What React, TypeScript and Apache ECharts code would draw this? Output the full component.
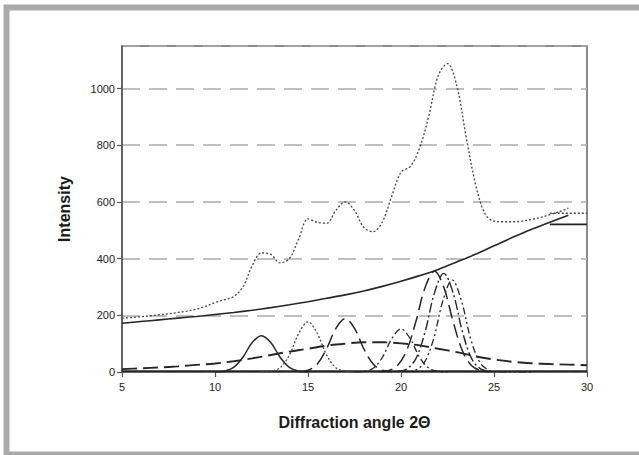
import React, { useEffect, useRef } from "react";
import * as echarts from "echarts";

// ---------- data ----------
const xTicks = [5, 10, 15, 20, 25, 30];
const yTicks = [0, 200, 400, 600, 800, 1000];

// observed total (dotted)
const totalX = [5, 5.5, 6, 6.5, 7, 7.5, 8, 8.5, 9, 9.5, 10, 10.5, 11, 11.5, 12, 12.5, 13, 13.5, 14, 14.5, 15, 15.5, 16, 16.5, 17, 17.5, 18, 18.5, 19, 19.5, 20, 20.5, 21, 21.5, 22, 22.5, 23, 23.5, 24, 24.5, 25, 25.5, 26, 26.5, 27, 27.5, 28, 28.5, 29];
const totalY = [190, 192, 195, 198, 202, 205, 210, 215, 222, 232, 245, 255, 266, 300, 375, 420, 415, 385, 400, 470, 540, 528, 525, 570, 600, 570, 510, 495, 530, 620, 705, 725, 790, 905, 1045, 1088, 1010, 830, 665, 560, 532, 530, 530, 532, 538, 545, 555, 565, 578];
const totalTailX = [28, 30];
const totalTailY = [560, 560];

// background (solid)
const bgX = [5, 6, 7, 8, 9, 10, 11, 12, 13, 14, 15, 16, 17, 18, 19, 20, 21, 22, 23, 24, 25, 26, 27, 28, 29];
const bgY = [172, 178, 184, 190, 196, 203, 210, 218, 227, 237, 248, 260, 272, 286, 302, 320, 340, 362, 388, 415, 445, 475, 503, 528, 553];
const bgTailX = [28, 30];
const bgTailY = [521, 521];

// amorphous hump (long dash)
const humpX = [5, 6, 7, 8, 9, 10, 11, 12, 13, 14, 15, 16, 17, 18, 19, 20, 21, 22, 23, 24, 25, 26, 27, 28, 29, 30];
const humpY = [10, 13, 16, 20, 25, 30, 38, 48, 60, 72, 82, 93, 100, 105, 105, 101, 94, 82, 70, 55, 44, 36, 31, 28, 26, 24];

// crystalline peaks
const peakAX = [10, 10.5, 11, 11.5, 12, 12.5, 13, 13.5, 14, 14.5, 15];
const peakAY = [0, 3, 16, 52, 104, 128, 104, 52, 16, 3, 0];

const peakBX = [12.5, 13, 13.5, 14, 14.5, 15, 15.5, 16, 16.5, 17, 17.5];
const peakBY = [1, 3, 15, 60, 136, 177, 136, 60, 15, 3, 0.5];

const peakCX = [14.5, 15, 15.5, 16, 16.5, 17, 17.5, 18, 18.5, 19, 19.5];
const peakCY = [1, 6, 28, 82, 154, 188, 154, 82, 28, 6, 1];

const peakDX = [17.5, 18, 18.5, 19, 19.5, 20, 20.5, 21, 21.5, 22, 22.5];
const peakDY = [0.5, 2, 13, 52, 117, 152, 117, 52, 13, 2, 0];

const peakEX = [18.8, 19.3, 19.8, 20.3, 20.8, 21.3, 21.8, 22.3, 22.8, 23.3, 23.8, 24.3, 24.8];
const peakEY = [0.7, 4.7, 22, 75, 178, 299, 355, 299, 178, 75, 22, 4.7, 0.7];

const peakFX = [19.8, 20.3, 20.8, 21.3, 21.8, 22.3, 22.8, 23.3, 23.8, 24.3, 24.8];
const peakFY = [1.4, 10, 47, 143, 279, 348, 279, 143, 47, 10, 1.4];

const peakGX = [20.25, 20.75, 21.25, 21.75, 22.25, 22.75, 23.25, 23.75, 24.25, 24.75, 25.25, 26, 27];
const peakGY = [0.6, 5.5, 33, 116, 251, 325, 251, 116, 33, 5.5, 0.6, 0, 0];

const baseX = [5, 30];
const baseY = [3, 3];

const pairs = (xs: number[], ys: number[]) => ys.map((y, i) => [xs[i], y]);

export default function App() {
  const ref = useRef<HTMLDivElement>(null);
  useEffect(() => {
    if (!ref.current) return;
    const chart = echarts.init(ref.current, undefined, { renderer: "svg" });
    const ink = "#262626";
    const line = (
      name: string,
      xs: number[],
      ys: number[],
      type: any,
      width = 1.5,
      smooth: any = 0.35,
      color = ink
    ) => ({
      name,
      type: "line",
      data: pairs(xs, ys),
      showSymbol: false,
      smooth,
      lineStyle: { color, width, type },
      silent: true,
    });
    chart.setOption({
      animation: false,
      backgroundColor: "#ffffff",
      textStyle: { fontFamily: "Liberation Sans, Arial, sans-serif" },
      graphic: [
        {
          type: "rect",
          shape: { x: 6.5, y: 7.5, width: 700, height: 447 },
          style: { fill: "none", stroke: "#a9a9a9", lineWidth: 6 },
          silent: true,
        },
      ],
      grid: {
        left: 122,
        right: 52,
        top: 46,
        bottom: 83,
        show: true,
        borderColor: "#666",
        borderWidth: 1.5,
        backgroundColor: "transparent",
      },
      xAxis: {
        type: "value",
        min: xTicks[0],
        max: xTicks[xTicks.length - 1],
        interval: 5,
        name: "Diffraction angle 2Θ",
        nameLocation: "middle",
        nameGap: 42,
        nameTextStyle: { fontSize: 16, fontWeight: "bold", color: "#1a1a1a" },
        axisLine: { show: true, lineStyle: { color: "#555", width: 1.5 } },
        axisTick: { show: true, length: 5, lineStyle: { color: "#555", width: 1.2 } },
        axisLabel: { fontSize: 11, color: "#222", margin: 9 },
        splitLine: { show: false },
      },
      yAxis: {
        type: "value",
        min: yTicks[0],
        max: 1150,
        interval: 200,
        name: "Intensity",
        nameLocation: "middle",
        nameGap: 50,
        nameTextStyle: { fontSize: 16, fontWeight: "bold", color: "#1a1a1a" },
        axisLine: { show: true, lineStyle: { color: "#555", width: 1.5 } },
        axisTick: { show: true, length: 5, lineStyle: { color: "#555", width: 1.2 } },
        axisLabel: {
          fontSize: 11,
          color: "#222",
          margin: 7,
          showMaxLabel: false,
          formatter: (v: number) => String(v),
        },
        splitLine: {
          show: true,
          lineStyle: { color: "#aaaaaa", width: 1.5, type: [18, 9] },
        },
      },
      series: [
        line("baseline", baseX, baseY, "solid", 1.6, false),
        line("hump", humpX, humpY, [15, 6], 1.9),
        line("peakA", peakAX, peakAY, "solid", 1.5),
        line("peakB", peakBX, peakBY, [2, 2], 1.3, 0.35, "#444"),
        line("peakC", peakCX, peakCY, [14, 6], 1.5),
        line("peakD", peakDX, peakDY, [7, 3, 2, 3], 1.3),
        line("peakE", peakEX, peakEY, [14, 6], 1.5),
        line("peakF", peakFX, peakFY, [10, 3, 2, 3], 1.4),
        line("peakG", peakGX, peakGY, [7, 3, 2, 3, 2, 3], 1.3),
        line("background", bgX, bgY, "solid", 1.6),
        line("backgroundTail", bgTailX, bgTailY, "solid", 1.8, false),
        line("total", totalX, totalY, [2, 2], 1.3, 0.35, "#444"),
        line("totalTail", totalTailX, totalTailY, [2, 2], 1.3, false, "#444"),
      ],
    });
    return () => chart.dispose();
  }, []);
  return (
    <div
      ref={ref}
      style={{ position: "fixed", left: 0, top: 0, width: 639, height: 455 }}
    />
  );
}
